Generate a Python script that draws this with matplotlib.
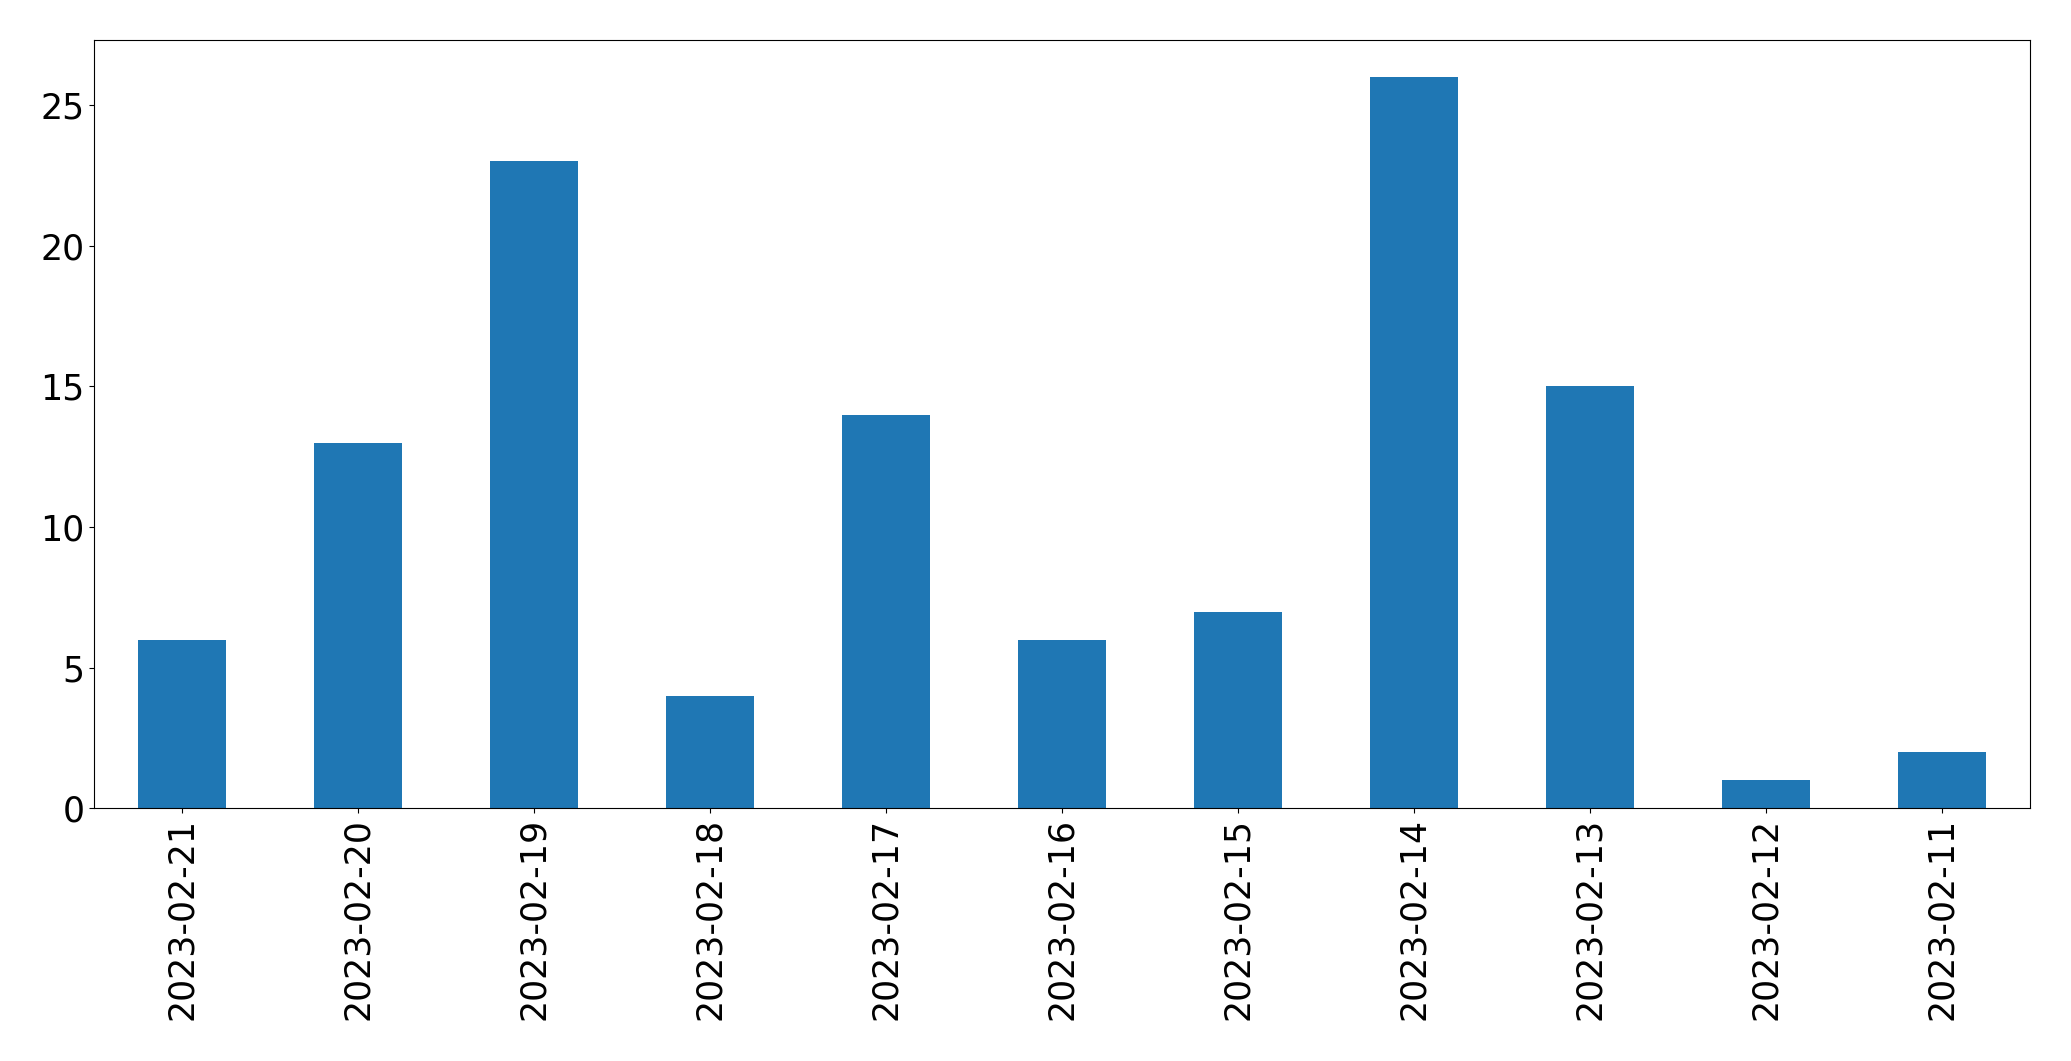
import matplotlib
matplotlib.use('Agg')
import matplotlib.pyplot as plt
import pandas as pd

dates = ['2023-02-21', '2023-02-20', '2023-02-19', '2023-02-18', '2023-02-17',
         '2023-02-16', '2023-02-15', '2023-02-14', '2023-02-13', '2023-02-12',
         '2023-02-11']
counts = [6, 13, 23, 4, 14, 6, 7, 26, 15, 1, 2]

s = pd.Series(counts, index=dates)

fig, ax = plt.subplots(figsize=(20.71, 10.61), dpi=100)
s.plot(kind='bar', ax=ax, color='#1f77b4')
ax.tick_params(axis='both', labelsize=25)
fig.subplots_adjust(left=0.0455, right=0.980, top=0.962, bottom=0.238)
fig.savefig('out.png', dpi=100)
